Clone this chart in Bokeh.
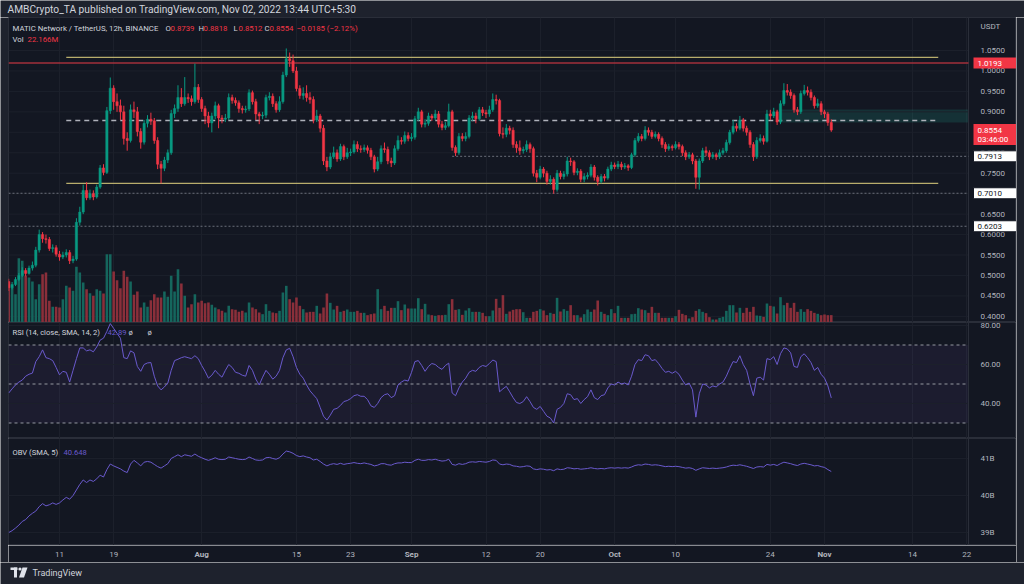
from bokeh.plotting import figure
from bokeh.layouts import column, row
from bokeh.models import (Range1d, FixedTicker, Label, BoxAnnotation, ColumnDataSource)
from bokeh.core.properties import value
from bokeh.embed import file_html
from bokeh.resources import INLINE

# ---------------- data (12h candles, day 0 = 2022-07-01 00:00) ----------------
first_day = 2.5
step = 0.5
first_open = 0.485

close = [
 0.470, 0.478, 0.490, 0.500, 0.512, 0.505, 0.518, 0.525, 0.562, 0.600,
 0.590, 0.588, 0.566, 0.568, 0.552, 0.545, 0.550, 0.556, 0.536, 0.540,
 0.630, 0.655, 0.708, 0.690, 0.700, 0.692, 0.716, 0.763, 0.752, 0.903,
 0.958, 0.925, 0.915, 0.900, 0.835, 0.830, 0.905, 0.900, 0.852, 0.826,
 0.872, 0.882, 0.878, 0.830, 0.772, 0.762, 0.782, 0.800, 0.896, 0.908,
 0.935, 0.920, 0.935, 0.932, 0.925, 0.960, 0.930, 0.908, 0.890, 0.873,
 0.890, 0.915, 0.885, 0.882, 0.885, 0.935, 0.928, 0.922, 0.908, 0.905,
 0.907, 0.947, 0.925, 0.895, 0.890, 0.892, 0.935, 0.938, 0.920, 0.905,
 0.925, 0.990, 1.030, 1.025, 1.000, 0.957, 0.940, 0.945, 0.935, 0.930,
 0.880, 0.890, 0.860, 0.780, 0.765, 0.790, 0.800, 0.785, 0.815, 0.790,
 0.800, 0.802, 0.820, 0.810, 0.808, 0.812, 0.806, 0.790, 0.760, 0.778,
 0.810, 0.808, 0.780, 0.775, 0.810, 0.830, 0.828, 0.842, 0.835, 0.838,
 0.883, 0.900, 0.870, 0.872, 0.890, 0.885, 0.895, 0.870, 0.862, 0.866,
 0.900, 0.813, 0.800, 0.840, 0.835, 0.840, 0.885, 0.890, 0.883, 0.905,
 0.898, 0.895, 0.905, 0.930, 0.928, 0.847, 0.845, 0.860, 0.855, 0.820,
 0.812, 0.805, 0.808, 0.820, 0.810, 0.750, 0.740, 0.760, 0.750, 0.730,
 0.735, 0.710, 0.750, 0.742, 0.748, 0.780, 0.778, 0.752, 0.755, 0.735,
 0.742, 0.745, 0.765, 0.740, 0.730, 0.742, 0.738, 0.760, 0.770, 0.766,
 0.772, 0.765, 0.768, 0.764, 0.795, 0.830, 0.840, 0.835, 0.855, 0.850,
 0.840, 0.845, 0.835, 0.820, 0.810, 0.815, 0.812, 0.820, 0.815, 0.800,
 0.790, 0.795, 0.780, 0.740, 0.780, 0.805, 0.800, 0.790, 0.795, 0.790,
 0.800, 0.805, 0.825, 0.850, 0.865, 0.860, 0.880, 0.860, 0.850, 0.820,
 0.790, 0.830, 0.835, 0.828, 0.895, 0.890, 0.900, 0.875, 0.920, 0.952,
 0.948, 0.940, 0.905, 0.900, 0.945, 0.952, 0.948, 0.935, 0.915, 0.920,
 0.900, 0.895, 0.8739, 0.8554]

high = [
 0.492, 0.484, 0.496, 0.506, 0.520, 0.518, 0.524, 0.534, 0.570, 0.612,
 0.606, 0.600, 0.594, 0.576, 0.574, 0.560, 0.558, 0.564, 0.562, 0.548,
 0.640, 0.668, 0.722, 0.728, 0.710, 0.708, 0.722, 0.770, 0.772, 0.912,
 0.984, 0.965, 0.945, 0.930, 0.915, 0.850, 0.918, 0.925, 0.912, 0.860,
 0.880, 0.892, 0.898, 0.885, 0.838, 0.780, 0.790, 0.808, 0.905, 0.918,
 0.965, 0.958, 0.985, 0.945, 0.940, 1.018, 0.968, 0.936, 0.915, 0.900,
 0.898, 0.925, 0.920, 0.892, 0.895, 0.945, 0.942, 0.935, 0.928, 0.915,
 0.915, 0.955, 0.952, 0.932, 0.900, 0.900, 0.942, 0.948, 0.945, 0.926,
 0.938, 0.998, 1.055, 1.045, 1.040, 1.010, 0.965, 0.960, 0.965, 0.948,
 0.938, 0.905, 0.895, 0.868, 0.790, 0.800, 0.815, 0.808, 0.822, 0.820,
 0.812, 0.810, 0.830, 0.828, 0.818, 0.820, 0.818, 0.812, 0.795, 0.790,
 0.818, 0.825, 0.815, 0.788, 0.818, 0.842, 0.838, 0.852, 0.850, 0.848,
 0.890, 0.910, 0.905, 0.882, 0.898, 0.895, 0.905, 0.902, 0.878, 0.875,
 0.920, 0.905, 0.818, 0.848, 0.848, 0.850, 0.892, 0.900, 0.898, 0.912,
 0.912, 0.905, 0.915, 0.945, 0.942, 0.932, 0.862, 0.870, 0.866, 0.862,
 0.828, 0.830, 0.815, 0.830, 0.825, 0.815, 0.758, 0.768, 0.765, 0.756,
 0.745, 0.740, 0.758, 0.756, 0.755, 0.790, 0.788, 0.782, 0.762, 0.760,
 0.750, 0.752, 0.772, 0.770, 0.745, 0.748, 0.748, 0.766, 0.778, 0.776,
 0.780, 0.778, 0.775, 0.772, 0.800, 0.836, 0.848, 0.846, 0.865, 0.862,
 0.856, 0.852, 0.850, 0.840, 0.826, 0.822, 0.820, 0.828, 0.826, 0.820,
 0.806, 0.802, 0.800, 0.785, 0.786, 0.812, 0.815, 0.806, 0.802, 0.800,
 0.808, 0.812, 0.832, 0.856, 0.880, 0.872, 0.890, 0.885, 0.866, 0.855,
 0.826, 0.838, 0.845, 0.842, 0.905, 0.905, 0.910, 0.905, 0.928, 0.970,
 0.968, 0.955, 0.945, 0.912, 0.952, 0.966, 0.962, 0.955, 0.940, 0.932,
 0.926, 0.905, 0.900, 0.8818]

low = [
 0.462, 0.466, 0.474, 0.486, 0.496, 0.498, 0.502, 0.512, 0.520, 0.556,
 0.580, 0.578, 0.560, 0.556, 0.546, 0.536, 0.540, 0.544, 0.528, 0.530,
 0.536, 0.622, 0.650, 0.684, 0.685, 0.684, 0.688, 0.712, 0.745, 0.748,
 0.895, 0.905, 0.900, 0.880, 0.820, 0.805, 0.825, 0.885, 0.840, 0.810,
 0.820, 0.862, 0.868, 0.822, 0.760, 0.725, 0.755, 0.775, 0.795, 0.885,
 0.900, 0.912, 0.915, 0.922, 0.915, 0.920, 0.922, 0.900, 0.870, 0.862,
 0.850, 0.882, 0.860, 0.872, 0.875, 0.880, 0.920, 0.915, 0.898, 0.896,
 0.898, 0.902, 0.918, 0.880, 0.870, 0.882, 0.885, 0.928, 0.912, 0.898,
 0.900, 0.920, 0.985, 1.010, 0.995, 0.950, 0.932, 0.930, 0.925, 0.920,
 0.872, 0.875, 0.850, 0.770, 0.755, 0.760, 0.785, 0.778, 0.780, 0.782,
 0.785, 0.792, 0.798, 0.802, 0.800, 0.802, 0.798, 0.782, 0.752, 0.755,
 0.772, 0.800, 0.772, 0.765, 0.770, 0.805, 0.820, 0.822, 0.828, 0.828,
 0.832, 0.878, 0.862, 0.862, 0.866, 0.878, 0.880, 0.862, 0.855, 0.856,
 0.862, 0.805, 0.792, 0.795, 0.828, 0.828, 0.835, 0.878, 0.872, 0.878,
 0.890, 0.885, 0.888, 0.900, 0.918, 0.840, 0.835, 0.838, 0.845, 0.812,
 0.800, 0.795, 0.798, 0.802, 0.800, 0.742, 0.728, 0.735, 0.740, 0.722,
 0.722, 0.700, 0.705, 0.735, 0.735, 0.742, 0.768, 0.745, 0.745, 0.728,
 0.728, 0.735, 0.740, 0.732, 0.720, 0.725, 0.730, 0.734, 0.755, 0.760,
 0.760, 0.758, 0.760, 0.756, 0.760, 0.790, 0.825, 0.828, 0.830, 0.842,
 0.834, 0.835, 0.828, 0.812, 0.802, 0.805, 0.805, 0.808, 0.808, 0.792,
 0.782, 0.785, 0.772, 0.712, 0.710, 0.775, 0.792, 0.782, 0.785, 0.782,
 0.785, 0.795, 0.800, 0.820, 0.845, 0.852, 0.855, 0.852, 0.842, 0.812,
 0.780, 0.785, 0.825, 0.820, 0.825, 0.880, 0.885, 0.868, 0.870, 0.915,
 0.940, 0.932, 0.898, 0.892, 0.895, 0.940, 0.940, 0.928, 0.908, 0.910,
 0.892, 0.885, 0.866, 0.8512]

volume_m = [
 115, 105, 85, 193, 185, 140, 135, 123, 70, 115,
 145, 150, 65, 47, 47, 45, 70, 110, 105, 95,
 167, 150, 120, 100, 88, 80, 100, 95, 87, 205,
 205, 153, 127, 103, 155, 137, 123, 83, 93, 45,
 60, 47, 67, 85, 75, 75, 93, 77, 140, 93,
 160, 117, 80, 45, 55, 85, 60, 65, 58, 60,
 53, 45, 40, 35, 30, 50, 40, 38, 32, 35,
 30, 60, 45, 40, 30, 25, 55, 35, 30, 28,
 35, 90, 110, 70, 60, 75, 50,
 40, 30, 32, 32, 50, 27, 45, 87, 59, 39,
 50, 32, 35, 39, 32, 32, 35, 29, 29, 22,
 25, 27, 100, 40, 50, 35, 44, 44, 64, 37,
 54, 42, 42, 42, 73, 40, 56, 24, 22, 20,
 22, 22, 23, 55, 70, 38, 40, 23, 36, 43,
 32, 32, 32, 29, 19, 19, 36, 71, 44, 82,
 26, 33, 38, 40, 40, 31, 14, 14, 32, 35,
 40, 36, 22, 29, 26, 74, 33, 40, 35, 52,
 22, 22, 15, 25, 39, 32, 39, 66, 32, 26,
 22, 40, 28, 50, 14, 14, 14, 25, 26, 43,
 39, 37, 29, 47, 29, 29, 14, 14, 14, 14,
 19, 38, 26, 22, 12, 16, 35, 40, 32, 28,
 16, 9, 9, 14, 17, 35, 52, 52, 30, 44,
 29, 44, 32, 47, 21, 20, 17, 57, 50, 48,
 27, 76, 52, 59, 44, 59, 32, 40, 32, 40,
 35, 29, 26, 22, 24, 22, 22.166]

rsi = [
 45.4, 47.5, 49.5, 51, 52, 54, 55, 55.6, 61.5, 64,
 67.5, 63.5, 63, 62, 58.5, 54.7, 56.5, 56, 51, 57,
 63, 68.5, 68.5, 67, 67.5, 66.5, 69, 72.5, 73.5, 77,
 81, 78.5, 76, 73.5, 63.5, 63, 67, 66, 59, 56.5,
 60, 60.8, 61, 54, 49, 47, 48.5, 50.5, 57, 62,
 62.7, 63.5, 64, 63.5, 63, 64.5, 63, 59.5, 56.5, 53,
 54.5, 57, 55, 53.5, 57, 60, 58.5, 56, 55.5, 54.5,
 54, 59.5, 57, 52.5, 49.5, 53.5, 57, 55, 52.5, 54,
 57, 63.5, 67.5, 68.3, 64, 58.5, 55, 53, 49.5, 46.5,
 44.5, 42.5, 38, 33.5, 31.5, 34, 37, 37.5, 39, 41,
 41.5, 42.5, 44, 44.5, 43.7, 43.7, 42, 38.8, 38, 40,
 43, 44.5, 45, 43, 44, 49.5, 51, 52, 51.5, 56,
 61.5, 62, 59.5, 56.5, 59, 60.5, 60, 58.5, 57.5, 59.5,
 60.7, 45.4, 44, 48, 51, 53, 56, 57, 56.5, 58.5,
 59.5, 59, 60.5, 62.3, 61.5, 46, 47.5, 48.8, 46, 43,
 40.5, 40, 41, 43.5, 41, 38, 37, 38.5, 36, 33.5,
 32.6, 30, 37, 38, 40, 45, 44.5, 42, 42.5, 40,
 42, 43.5, 47, 43, 42, 44, 44.5, 48, 50, 49.5,
 51, 50, 50.5, 49.5, 54, 60, 62.5, 62, 65, 64.5,
 62, 62.5, 60.5, 58, 56, 56.5, 55.5, 56.5, 55, 52,
 49.5, 50.5, 47, 33, 45, 50, 49.5, 48, 49, 48.5,
 50, 51, 54, 58, 61.5, 61, 64.5, 60, 57, 50,
 44, 53, 53.5, 52, 63, 62.5, 64, 60, 65.5, 68.5,
 68, 66, 59, 58.5, 64, 65.5, 63.5, 61, 57, 58.5,
 55, 53, 49, 42.89]

obv_b = [
 39.00, 39.05, 39.12, 39.20, 39.30, 39.35, 39.45, 39.52, 39.58, 39.70, 39.78,
 39.72, 39.75, 39.80, 39.76, 39.80, 39.88, 39.95, 39.90, 40.00, 40.15,
 40.30, 40.42, 40.35, 40.42, 40.38, 40.45, 40.55, 40.50, 40.70, 40.85,
 40.80, 40.76, 40.72, 40.66, 40.62, 40.85, 40.95, 40.88, 40.80, 40.90,
 40.92, 40.90, 40.84, 40.78, 40.74, 40.80, 40.86, 41.00, 41.05, 41.10,
 41.05, 41.10, 41.08, 41.06, 41.12, 41.06, 41.02, 40.98, 40.95, 40.98,
 41.02, 40.98, 40.97, 40.98, 41.04, 41.02, 41.00, 40.98, 40.97, 40.98,
 41.04, 41.00, 40.96, 40.95, 40.96, 41.02, 41.03, 41.00, 40.98, 41.02,
 41.12, 41.20, 41.18, 41.14, 41.08, 41.05, 41.07, 41.04, 41.02, 40.96,
 40.98, 40.92, 40.85, 40.80, 40.84, 40.86, 40.84, 40.87, 40.84, 40.86,
 40.87, 40.89, 40.87, 40.86, 40.88, 40.86, 40.84, 40.80, 40.82, 40.86,
 40.86, 40.83, 40.82, 40.86, 40.88, 40.88, 40.90, 40.89, 40.89, 40.95,
 40.98, 40.95, 40.95, 40.97, 40.96, 40.98, 40.95, 40.93, 40.94, 40.98,
 40.84, 40.82, 40.86, 40.84, 40.86, 40.90, 40.91, 40.90, 40.92, 40.91,
 40.90, 40.92, 40.96, 40.95, 40.85, 40.83, 40.85, 40.84, 40.80, 40.79,
 40.77, 40.78, 40.80, 40.79, 40.72, 40.70, 40.72, 40.71, 40.69, 40.70,
 40.67, 40.72, 40.70, 40.71, 40.75, 40.74, 40.72, 40.73, 40.71, 40.72,
 40.73, 40.75, 40.73, 40.72, 40.73, 40.72, 40.74, 40.75, 40.74, 40.75,
 40.74, 40.75, 40.74, 40.77, 40.81, 40.83, 40.82, 40.85, 40.84, 40.82,
 40.83, 40.82, 40.80, 40.78, 40.79, 40.78, 40.79, 40.78, 40.76, 40.74,
 40.75, 40.73, 40.68, 40.72, 40.75, 40.74, 40.73, 40.74, 40.73, 40.74,
 40.75, 40.77, 40.80, 40.82, 40.81, 40.83, 40.81, 40.79, 40.76, 40.73,
 40.77, 40.78, 40.77, 40.84, 40.82, 40.84, 40.81, 40.86, 40.90, 40.88,
 40.86, 40.83, 40.81, 40.85, 40.87, 40.85, 40.83, 40.80, 40.81, 40.78,
 40.76, 40.70, 40.648]

n = len(close)
assert len(high) == n and len(low) == n, (n, len(high), len(low))
assert len(volume_m) == n, len(volume_m)
assert len(rsi) == n, len(rsi)
assert len(obv_b) == n, len(obv_b)

# time axis
tick_days = [10, 18, 31, 45, 53, 62, 73, 81, 92, 101, 115, 123, 136, 144]
tick_text = ["11", "19", "Aug", "15", "23", "Sep", "12", "20", "Oct", "10", "24", "Nov", "14", "22"]
tick_style = ["normal", "normal", "bold", "normal", "normal", "bold", "normal", "normal",
              "bold", "normal", "normal", "bold", "normal", "normal"]

price_ticks = [0.40, 0.45, 0.50, 0.55, 0.60, 0.65, 0.70, 0.75, 0.80, 0.85, 0.90, 0.95, 1.00, 1.05]
price_tick_text = ["%.4f" % t for t in price_ticks]
rsi_ticks = [40, 60, 80]
rsi_tick_text = ["40.00", "60.00", "80.00"]
rsi_levels = [70, 50, 30]
obv_ticks = [39, 40, 41]
obv_tick_text = ["39B", "40B", "41B"]

# chart edges in days (day 0 = Jul 1)
X0, X1 = 2.467, 144.27

# drawn levels (price, from day, to day)
lvl_price = [1.033, 1.0193, 0.879, 0.725, 0.7913, 0.7010, 0.6203]
lvl_from = [11.0, X0, 11.0, 11.0, 68.0, X0, X0]
lvl_to = [139.8, X1, 139.8, 139.8, X1, X1, X1]
lvl_kind = ["trend", "red", "dash", "trend", "dot", "dot", "dot"]

zone = dict(left=116.3, bottom=0.874, top=0.906)

box_price = [1.0193, 0.7913, 0.7010, 0.6203]
box_text = ["1.0193", "0.7913", "0.7010", "0.6203"]
box_kind = ["red", "white", "white", "white"]
last_price, last_text, countdown = 0.8554, "0.8554", "03:46:00"

# ---------------- style ----------------
BG = "#131722"
OUTER = "#1e222d"
GRID = "#1c202b"
SEP = "#2a2e39"
TXT = "#b2b5be"
TXT2 = "#d1d4dc"
UP, DN = "#089981", "#f23645"
VUP, VDN = "#15665d", "#8a2f3a"
IND = "#6a5acd"
FONT = "Roboto"
FS = "8px"
FS_INFO = "7.8px"
FS_PANE = "7.6px"
FW = 960          # chart part of each pane
RB = 48           # price-scale column
H_HDR, H_P, H_R, H_O, H_T, H_F = 17, 305, 116, 107, 17, 22
SIDE = 8
TOTAL_W = SIDE + FW + RB + SIDE

PXD = FW / (X1 - X0)              # pixels per day
XE = X0 + (FW + RB) / PXD         # right end incl. price scale column
x_range = Range1d(X0, XE)
LAB_X = X1 + 12 / PXD             # scale labels
BOX_L = X1 + 5 / PXD              # price boxes


def blank(w, h, color, xr=None, yr=None):
    f = figure(width=w, height=h, x_range=xr or Range1d(0, w), y_range=yr or Range1d(0, h),
               output_backend="svg", toolbar_location=None, title=None,
               x_axis_location=None, y_axis_location=None,
               min_border=0, min_border_left=0, min_border_right=0,
               min_border_top=0, min_border_bottom=0,
               background_fill_color=color, border_fill_color=color, outline_line_color=None)
    f.grid.visible = False
    return f


def pane(h, yr, ticks, tick_labels):
    f = figure(frame_width=FW + RB, frame_height=h, x_range=x_range, y_range=yr,
               output_backend="svg", toolbar_location=None, title=None,
               x_axis_location=None, y_axis_location=None,
               min_border=0, min_border_left=0, min_border_right=0,
               min_border_top=0, min_border_bottom=0,
               background_fill_color=BG, border_fill_color=BG,
               outline_line_color=SEP, outline_line_width=1)
    f.xgrid.ticker = FixedTicker(ticks=tick_days)
    f.xgrid.grid_line_color = GRID
    f.ygrid.visible = False
    k = len(ticks)
    f.segment(x0=[X0] * k, y0=ticks, x1=[X1] * k, y1=ticks, line_color=GRID, line_width=1)
    f.segment(x0=[X1], y0=[yr.start], x1=[X1], y1=[yr.end], line_color=SEP, line_width=1)
    f.text(x=[LAB_X] * k, y=ticks, text=tick_labels, text_font=value(FONT), text_font_size=FS,
           text_color=TXT, text_align="left", text_baseline="middle")
    return f


def add_text(f, h, x, top_off, text, color, size=FS_INFO):
    f.add_layout(Label(x=x, y=h - top_off, x_units="screen", y_units="screen", text=text,
                       text_color=color, text_font=FONT, text_font_size=size,
                       text_align="left", text_baseline="middle"))


# ---------------- header ----------------
hdr = blank(TOTAL_W, H_HDR, OUTER)
hdr.text(x=[7], y=[H_HDR / 2], text=["AMBCrypto_TA published on TradingView.com, Nov 02, 2022 13:44 UTC+5:30"],
         text_font=value(FONT), text_font_size="10.2px", text_color=TXT2,
         text_align="left", text_baseline="middle")

# ---------------- price pane ----------------
days = [first_day + step * i for i in range(n)]
opens = [first_open] + close[:-1]
is_up = [c >= o for o, c in zip(opens, close)]
src = ColumnDataSource(dict(
    x=days, o=opens, c=close, h=high, l=low,
    top=[max(o, c) for o, c in zip(opens, close)],
    bot=[min(o, c) for o, c in zip(opens, close)],
    col=[UP if u else DN for u in is_up],
    vcol=[VUP if u else VDN for u in is_up],
    vol=volume_m))

P_LO, P_HI = 0.385, 1.1307
PPX = (P_HI - P_LO) / H_P        # price per pixel
pp = pane(H_P, Range1d(P_LO, P_HI), price_ticks, price_tick_text)
pp.extra_y_ranges = {"vol": Range1d(0, 915)}

pp.vbar(x="x", width=0.38, top="vol", bottom=0, fill_color="vcol", line_color=None,
        y_range_name="vol", source=src)
pp.add_layout(BoxAnnotation(left=zone["left"], right=X1, bottom=zone["bottom"], top=zone["top"],
                            fill_color="#22ab94", fill_alpha=0.18, line_color=None, level="underlay"))

style = {
    "trend": dict(line_color="#b8ad6c", line_width=1.2, line_dash="solid"),
    "red": dict(line_color="#a3303b", line_width=1.6, line_dash="solid"),
    "dash": dict(line_color="#aeb1ba", line_width=1.4, line_dash="5 4"),
    "dot": dict(line_color="#6b6f7a", line_width=1, line_dash="2 2"),
}
for pr, a, b, kd in zip(lvl_price, lvl_from, lvl_to, lvl_kind):
    pp.segment(x0=[a], y0=[pr], x1=[b], y1=[pr], **style[kd])

pp.segment(x0="x", y0="h", x1="x", y1="l", line_color="col", line_width=1, source=src)
pp.vbar(x="x", width=0.34, top="top", bottom="bot", fill_color="col", line_color="col",
        line_width=0.5, source=src)

# "USDT" over the price scale
pp.text(x=[LAB_X], y=[P_HI - 9 * PPX], text=["USDT"], text_font=value(FONT), text_font_size=FS,
        text_color=TXT, text_align="left", text_baseline="middle")

# price boxes on the scale
for pr, t, kd in zip(box_price, box_text, box_kind):
    red = kd == "red"
    pp.quad(left=[BOX_L], right=[XE], bottom=[pr - 5.5 * PPX], top=[pr + 5.5 * PPX],
            fill_color=DN if red else "#ffffff", line_color=None if red else "#131722")
    pp.text(x=[BOX_L + 4 / PXD], y=[pr], text=[t], text_font=value(FONT), text_font_size=FS,
            text_color="#ffffff" if red else "#131722", text_align="left", text_baseline="middle")
pp.quad(left=[BOX_L], right=[XE], bottom=[last_price - 15 * PPX], top=[last_price + 6 * PPX],
        fill_color=DN, line_color=None)
pp.text(x=[BOX_L + 4 / PXD] * 2, y=[last_price, last_price - 9 * PPX], text=[last_text, countdown],
        text_font=value(FONT), text_font_size=FS, text_color="#ffffff",
        text_align="left", text_baseline="middle")

add_text(pp, H_P, 4, 11, "MATIC Network / TetherUS, 12h, BINANCE", TXT2)
ohlc_lab = ["O", "H", "L", "C"]
ohlc_val = ["0.8739", "0.8818", "0.8512", "0.8554"]
ohlc_x = [157, 190, 225, 256]
for lab, val, xx in zip(ohlc_lab, ohlc_val, ohlc_x):
    add_text(pp, H_P, xx, 11, lab, TXT2)
    add_text(pp, H_P, xx + 5, 11, val, DN)
add_text(pp, H_P, 288, 11, "\u22120.0185 (\u22122.12%)", DN)
add_text(pp, H_P, 4, 22, "Vol", TXT2)
add_text(pp, H_P, 19, 22, "22.166M", DN)

# ---------------- RSI pane ----------------
pr_ = pane(H_R, Range1d(22.05, 81.54), rsi_ticks, rsi_tick_text)
pr_.add_layout(BoxAnnotation(left=X0, right=X1, bottom=min(rsi_levels), top=max(rsi_levels),
                             fill_color="#7e57c2", fill_alpha=0.09, line_color=None, level="underlay"))
k = len(rsi_levels)
pr_.segment(x0=[X0] * k, y0=rsi_levels, x1=[X1] * k, y1=rsi_levels, line_color="#9598a1",
            line_dash="3 3", line_width=1)
pr_.line(days, rsi, line_color=IND, line_width=1)
add_text(pr_, H_R, 4, 10, "RSI (14, close, SMA, 14, 2)", TXT2, FS_PANE)
add_text(pr_, H_R, 99, 10, "42.89", IND, FS_PANE)
add_text(pr_, H_R, 120, 10, "\u00f8", TXT2, FS_PANE)
add_text(pr_, H_R, 139, 10, "\u00f8", TXT2, FS_PANE)

# ---------------- OBV pane ----------------
po = pane(H_O, Range1d(38.65, 41.54), obv_ticks, obv_tick_text)
po.line(days, obv_b, line_color=IND, line_width=1)
add_text(po, H_O, 4, 14, "OBV (SMA, 5)", TXT2, FS_PANE)
add_text(po, H_O, 55, 14, "40.648", IND, FS_PANE)

# ---------------- time axis strip ----------------
pt = figure(frame_width=FW + RB, frame_height=H_T, x_range=x_range, y_range=Range1d(0, 1),
            output_backend="svg", toolbar_location=None, title=None,
            x_axis_location=None, y_axis_location=None,
            min_border=0, min_border_left=0, min_border_right=0,
            min_border_top=0, min_border_bottom=0,
            background_fill_color=BG, border_fill_color=BG, outline_line_color=None)
pt.grid.visible = False
tsrc = ColumnDataSource(dict(x=tick_days, y=[0.5] * len(tick_days), t=tick_text, s=tick_style))
pt.text(x="x", y="y", text="t", text_font_style="s", source=tsrc,
        text_font=value(FONT), text_font_size=FS, text_color=TXT,
        text_align="center", text_baseline="middle")

# ---------------- side strips ----------------
body_h = H_P + H_R + H_O + H_T
left = blank(SIDE, body_h, OUTER)
right = blank(SIDE, body_h, OUTER)

# ---------------- footer ----------------
pf = blank(TOTAL_W, H_F, OUTER)
LOGO = "#e0e3eb"
pf.quad(left=[10], right=[17], top=[17], bottom=[14.5], fill_color=LOGO, line_color=None)
pf.quad(left=[13.5], right=[16.5], top=[17], bottom=[7], fill_color=LOGO, line_color=None)
pf.scatter(x=[19.5], y=[15.5], size=3.2, marker="circle", fill_color=LOGO, line_color=None)
pf.patch(x=[22, 27, 23.5, 18.5], y=[17, 17, 7, 7], fill_color=LOGO, line_color=None)
pf.text(x=[32], y=[12], text=["TradingView"], text_font=value(FONT), text_font_size="9px",
        text_color=TXT2, text_baseline="middle", text_align="left")

layout = column(hdr, row(left, column(pp, pr_, po, pt, spacing=0), right, spacing=0), pf, spacing=0)
open("out.html", "w").write(file_html(layout, INLINE))
